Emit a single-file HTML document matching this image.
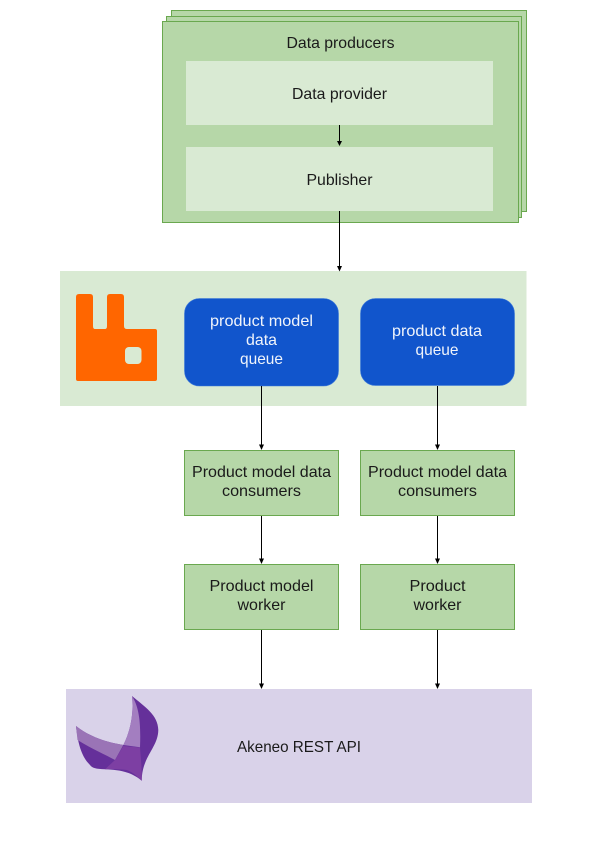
<!DOCTYPE html>
<html><head><meta charset="utf-8"><style>
html,body{margin:0;padding:0;background:#fff;width:600px;height:860px;overflow:hidden}
svg{display:block}
text{font-family:"Liberation Sans",sans-serif;font-size:16px;text-anchor:middle;fill:#1a1a1a}
.w{fill:#f0f4fb}
</style></head><body>
<svg width="600" height="860" viewBox="0 0 600 860" xmlns="http://www.w3.org/2000/svg">
<g fill="#b6d7a8" stroke="#6aa84f" stroke-width="1">
<rect x="171.5" y="10.5" width="355" height="201"/>
<rect x="166.5" y="16.5" width="355" height="201"/>
<rect x="162.5" y="21.5" width="356" height="201"/>
</g>
<rect x="186" y="61" width="307" height="64" fill="#d9ead3"/>
<rect x="186" y="147" width="307" height="64" fill="#d9ead3"/>
<rect x="60" y="271" width="466.5" height="135" fill="#d9ead3"/>
<rect x="66" y="689" width="466" height="114" fill="#d9d2e9"/>

<path d="M76 297Q76 294 79 294H90Q93 294 93 297V326Q93 329 95 329H105Q107 329 107 326V297Q107 294 110 294H121Q124 294 124 297V326Q124 329 127 329H155Q157 329 157 331V379Q157 381 155 381H78Q76 381 76 379Z" fill="#ff6600"/>
<rect x="125" y="347" width="16.500" height="17" rx="4" fill="#d9ead3"/>

<rect x="184.5" y="298.5" width="154" height="87.500" rx="15" fill="#1155cc" stroke="#3c78d8" stroke-width="0.600"/>
<rect x="360.500" y="298.500" width="154" height="87" rx="15" fill="#1155cc" stroke="#3c78d8" stroke-width="0.600"/>

<g fill="#b6d7a8" stroke="#6aa84f" stroke-width="1">
<rect x="184.500" y="450.500" width="154" height="65"/>
<rect x="360.500" y="450.500" width="154" height="65"/>
<rect x="184.500" y="564.500" width="154" height="65"/>
<rect x="360.500" y="564.500" width="154" height="65"/>
</g>

<g stroke="#000" stroke-width="1" fill="none">
<path d="M339.500 125V141M339.500 211V267M261.500 386V445M437.500 386V445M261.500 516V559M437.500 516V559M261.500 630V685M437.500 630V685"/>
</g>
<g fill="#000">
<path d="M337 141H342L339.500 146Z"/>
<path d="M337 266H342L339.500 271.500Z"/>
<path d="M259 444.500H264L261.500 450Z"/>
<path d="M435 444.500H440L437.500 450Z"/>
<path d="M259 558.500H264L261.500 564Z"/>
<path d="M435 558.500H440L437.500 564Z"/>
<path d="M259 683.500H264L261.500 689Z"/>
<path d="M435 683.500H440L437.500 689Z"/>
</g>

<path d="M76 726C90 737 106 742 123.300 745C130 732 134 715 132 696C145 707 158 715 158.300 730C158 748 142 756 141.700 780.700C130 771 118 770 105 769.300C96 769 92 768 90 765C82 757 78 745 76 726Z" fill="#65309a"/>
<path d="M132 696C139 707 141 722 140 747.300L123.300 745C130 732 134 715 132 696Z" fill="#a37ec0"/>
<path d="M76 726C90 737 106 742 123.300 745L115 760C106 755 92 749 77.500 740Z" fill="#9a74b6"/>
<path d="M123.300 746L140 747.500C141 760 142 770 141.700 780.700C136 775 132 772 126.700 770C120 769 112 769 105 769.300L115 760Z" fill="#7d3fa3"/>

<text lengthAdjust="spacingAndGlyphs" x="340.500" y="48" textLength="108">Data producers</text>
<text lengthAdjust="spacingAndGlyphs" x="339.500" y="99" textLength="95">Data provider</text>
<text lengthAdjust="spacingAndGlyphs" x="339.500" y="185" textLength="66">Publisher</text>
<text lengthAdjust="spacingAndGlyphs" class="w" x="261.500" y="326" textLength="103">product model</text>
<text lengthAdjust="spacingAndGlyphs" class="w" x="261.500" y="345" textLength="31">data</text>
<text lengthAdjust="spacingAndGlyphs" class="w" x="261.500" y="364" textLength="43">queue</text>
<text lengthAdjust="spacingAndGlyphs" class="w" x="437" y="336" textLength="90">product data</text>
<text lengthAdjust="spacingAndGlyphs" class="w" x="437" y="355" textLength="43">queue</text>
<text lengthAdjust="spacingAndGlyphs" x="261.500" y="477" textLength="139">Product model data</text>
<text lengthAdjust="spacingAndGlyphs" x="261.500" y="496" textLength="79">consumers</text>
<text lengthAdjust="spacingAndGlyphs" x="437.500" y="477" textLength="139">Product model data</text>
<text lengthAdjust="spacingAndGlyphs" x="437.500" y="496" textLength="79">consumers</text>
<text lengthAdjust="spacingAndGlyphs" x="261.500" y="591" textLength="104">Product model</text>
<text lengthAdjust="spacingAndGlyphs" x="261.500" y="610" textLength="48">worker</text>
<text lengthAdjust="spacingAndGlyphs" x="437.500" y="591" textLength="56">Product</text>
<text lengthAdjust="spacingAndGlyphs" x="437.500" y="610" textLength="48">worker</text>
<text lengthAdjust="spacingAndGlyphs" x="299" y="752" textLength="124">Akeneo REST API</text>
</svg>
</body></html>
